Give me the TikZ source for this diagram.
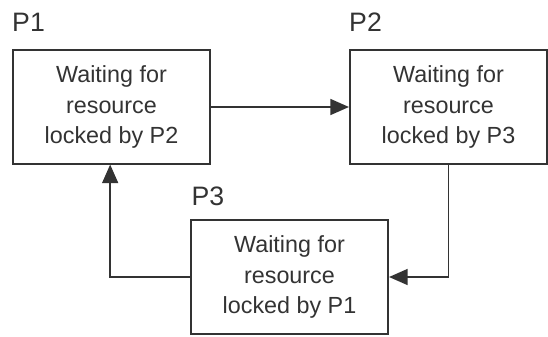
\documentclass[tikz,border=0pt]{standalone}
\usepackage{fontspec}
\setmainfont{Liberation Sans}
\usetikzlibrary{arrows.meta,positioning}
\definecolor{cink}{HTML}{333333}

\begin{document}
\begin{tikzpicture}[x=0.75pt, y=-0.75pt,
    proc/.style={draw=cink, line width=1.3pt, minimum width=148pt, minimum height=85pt,
      align=center, inner sep=0pt, font=\fontsize{17.5}{23}\selectfont, text=cink},
    lab/.style={anchor=base west, inner sep=0pt, font=\fontsize{20}{24}\selectfont, text=cink},
    arr/.style={-{Triangle[length=14pt, width=12pt]}, draw=cink, line width=1.3pt}]
  \useasboundingbox (0,0) rectangle (548,336);
  \node[proc] (box1) at (111.5,107) {Waiting for\\resource\\locked by P2};
  \node[proc] (box2) at (448.5,107) {Waiting for\\resource\\locked by P3};
  \node[proc] (box3) at (289.5,277) {Waiting for\\resource\\locked by P1};

  \node[lab, above right=13pt and 0pt of box1.north west] (lP1) {P1};
  \node[lab, above right=13pt and 0pt of box2.north west] (lP2) {P2};
  \node[lab, above right=10pt and 1pt of box3.north west] (lP3) {P3};

  \draw[arr] (box1.east) -- (box2.west);
  \draw[arr] (box2.south) |- (box3.east);
  \draw[arr] (box3.west) -| ([xshift=-1pt]box1.south);
\end{tikzpicture}
\end{document}
